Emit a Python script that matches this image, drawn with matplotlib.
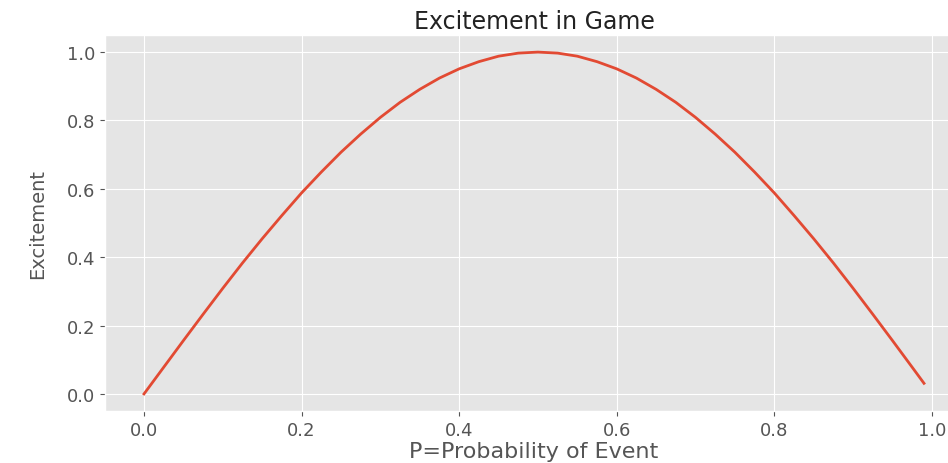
import matplotlib
matplotlib.use('Agg')
import matplotlib.pyplot as plt

plt.style.use('ggplot')

# values
p_values = [0.0, 0.025, 0.05, 0.075, 0.10, 0.125, 0.15, 0.175, 0.20, 0.225,
            0.25, 0.275, 0.30, 0.325, 0.35, 0.375, 0.40, 0.425, 0.45, 0.475,
            0.50, 0.525, 0.55, 0.575, 0.60, 0.625, 0.65, 0.675, 0.70, 0.725,
            0.75, 0.775, 0.80, 0.825, 0.85, 0.875, 0.90, 0.925, 0.95, 0.975,
            0.99]
excitement = [0.0, 0.078, 0.156, 0.233, 0.309, 0.383, 0.454, 0.522, 0.588, 0.649,
              0.707, 0.760, 0.809, 0.853, 0.891, 0.924, 0.951, 0.972, 0.988, 0.997,
              1.0, 0.997, 0.988, 0.972, 0.951, 0.924, 0.891, 0.853, 0.809, 0.760,
              0.707, 0.649, 0.588, 0.522, 0.454, 0.383, 0.309, 0.233, 0.156, 0.078,
              0.031]

fig = plt.figure(figsize=(9.48, 4.64), dpi=100)
ax = fig.add_axes([105 / 948, 1 - 412 / 464, 858 / 948, 376 / 464])
ax.plot(p_values, excitement, color='#E24A33', linewidth=2)
ax.set_title('Excitement in Game', fontsize=17, color='#222222', pad=5)
ax.set_xlabel('P=Probability of Event', fontsize=16, color='#555555', labelpad=2)
ax.set_ylabel('Excitement', fontsize=14, color='#555555', labelpad=14)
ax.tick_params(labelsize=13, colors='#555555')
ax.set_xticks([0.0, 0.2, 0.4, 0.6, 0.8, 1.0])
ax.set_yticks([0.0, 0.2, 0.4, 0.6, 0.8, 1.0])

fig.savefig('out.png', dpi=100)
